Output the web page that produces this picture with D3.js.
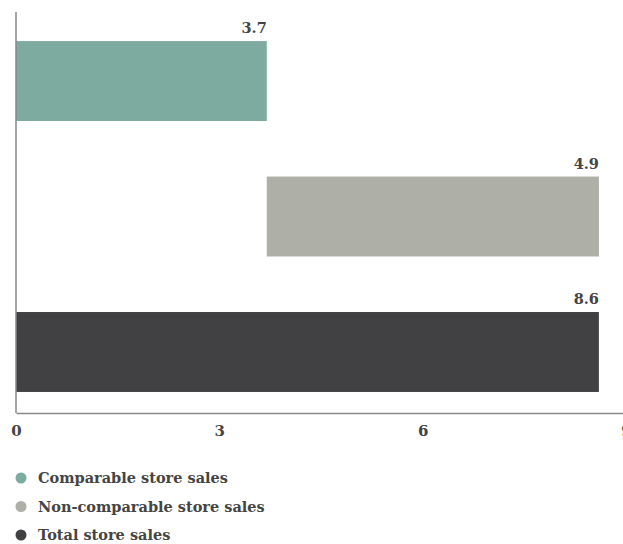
<!DOCTYPE html>
<html>
<head>
<meta charset="utf-8">
<script src="https://cdn.jsdelivr.net/npm/d3@7"></script>
<style>
  body { margin: 0; background: #fff; }
  text { font-family: "DejaVu Serif", "Liberation Serif", serif; font-weight: bold; fill: #444; }
</style>
</head>
<body>
<svg id="chart"></svg>
<script>
// data
const categories = ["Comparable store sales", "Non-comparable store sales", "Total store sales"];
const starts = [0, 3.7, 0];
const values = [3.7, 4.9, 8.6];
const colors = ["#7eaba0", "#aeafa7", "#414143"];
const ticks = [0, 3, 6, 9];

const width = 623;
const height = 544;

const svg = d3.select("#chart")
    .attr("width", width)
    .attr("height", height);

const x = d3.scaleLinear()
    .domain([0, 9])
    .range([16, 626]);

const y = d3.scaleBand()
    .domain(categories)
    .range([12, 413])
    .paddingInner(0.41)
    .paddingOuter(0.185)
    .align(0.58);

const data = categories.map((c, i) => ({ cat: c, start: starts[i], value: values[i], color: colors[i] }));

// bars
svg.selectAll(".bar")
    .data(data)
    .enter().append("rect")
    .attr("class", "bar")
    .attr("x", d => x(d.start))
    .attr("y", d => y(d.cat))
    .attr("width", d => x(d.start + d.value) - x(d.start))
    .attr("height", y.bandwidth())
    .attr("fill", d => d.color);

// value labels
svg.selectAll(".val")
    .data(data)
    .enter().append("text")
    .attr("class", "val")
    .attr("x", d => x(d.start + d.value))
    .attr("y", d => y(d.cat) - 8)
    .attr("text-anchor", "end")
    .style("font-size", "14.5px")
    .text(d => d.value.toFixed(1));

// axes
const xAxis = svg.append("g")
    .attr("transform", "translate(0,413)")
    .call(d3.axisBottom(x).tickValues(ticks).tickSize(0).tickPadding(12));
xAxis.select(".domain").attr("stroke", "#888").attr("stroke-width", 1.5);
xAxis.selectAll("text")
    .style("font-size", "15px")
    .style("font-family", "'DejaVu Serif', serif")
    .attr("fill", "#444");

svg.append("line")
    .attr("x1", x(0)).attr("x2", x(0))
    .attr("y1", 12).attr("y2", 413)
    .attr("stroke", "#888")
    .attr("stroke-width", 1.5);

// legend
const legend = svg.selectAll(".legend")
    .data(data)
    .enter().append("g")
    .attr("class", "legend")
    .attr("transform", (d, i) => `translate(21, ${478 + i * 28.5})`);

legend.append("circle")
    .attr("r", 5.5)
    .attr("fill", d => d.color);

legend.append("text")
    .attr("x", 17)
    .attr("y", 5)
    .style("font-size", "14.5px")
    .text(d => d.cat);
</script>
</body>
</html>
